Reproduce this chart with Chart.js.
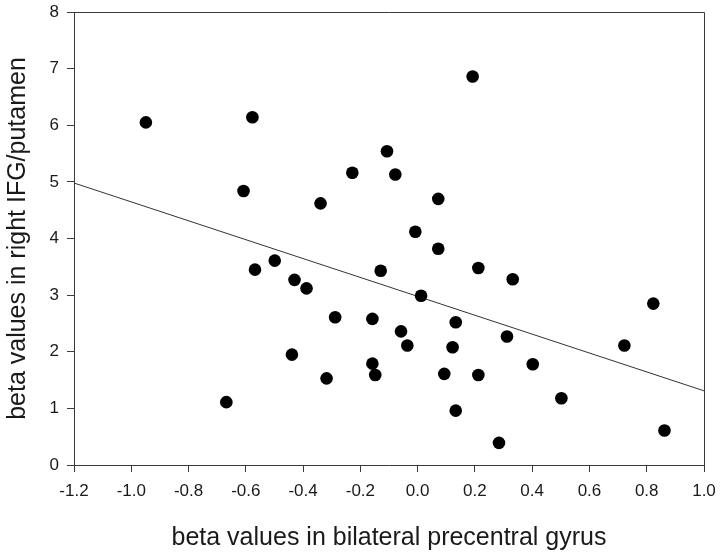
<!DOCTYPE html>
<html>
<head>
<meta charset="utf-8">
<script src="https://cdn.jsdelivr.net/npm/chart.js@4.4.1/dist/chart.umd.min.js"></script>
<style>
  html, body { margin: 0; padding: 0; background: #ffffff; }
  #wrap { width: 720px; height: 554px; }
</style>
</head>
<body>
<div id="wrap"><canvas id="c" width="720" height="554"></canvas></div>
<script>
// Data
const precentralX = [-0.949, -0.577, -0.228, -0.608, -0.339, -0.499, -0.568, -0.430, -0.388, -0.288,
  -0.439, -0.318, -0.668, 0.192, -0.107, -0.078, 0.072, -0.008, 0.072, -0.129,
  0.212, 0.332, 0.012, 0.823, -0.158, 0.133, -0.058, 0.312, -0.036, 0.122,
  0.722, -0.158, -0.148, 0.093, 0.212, 0.402, 0.502, 0.133, 0.862, 0.284];
const ifgPutamenY = [6.05, 6.14, 5.16, 4.84, 4.62, 3.61, 3.45, 3.27, 3.12, 2.61,
  1.95, 1.53, 1.11, 6.86, 5.54, 5.13, 4.70, 4.12, 3.82, 3.43,
  3.48, 3.28, 2.99, 2.85, 2.58, 2.52, 2.36, 2.27, 2.11, 2.08,
  2.11, 1.79, 1.59, 1.61, 1.59, 1.78, 1.18, 0.96, 0.61, 0.39];
const fitLineX = [-1.2, 1.0];
const fitLineY = [4.98, 1.31];
const xTickValues = [-1.2, -1.0, -0.8, -0.6, -0.4, -0.2, 0.0, 0.2, 0.4, 0.6, 0.8, 1.0];
const yTickValues = [0, 1, 2, 3, 4, 5, 6, 7, 8];
const xTitle = 'beta values in bilateral precentral gyrus';
const yTitle = 'beta values in right IFG/putamen';

const scatterPts = precentralX.map((x, i) => ({ x: x, y: ifgPutamenY[i] }));
const linePts = fitLineX.map((x, i) => ({ x: x, y: fitLineY[i] }));

const axisColor = '#3a3a3a';
const textColor = '#1a1a1a';
const fontFam = '"Liberation Sans", Arial, sans-serif';

const boxPlugin = {
  id: 'box',
  afterDraw(chart) {
    const a = chart.chartArea;
    const ctx = chart.ctx;
    ctx.save();
    ctx.strokeStyle = axisColor;
    ctx.lineWidth = 1;
    ctx.beginPath();
    ctx.moveTo(a.left, a.top + 0.5);
    ctx.lineTo(a.right + 0.5, a.top + 0.5);
    ctx.lineTo(a.right + 0.5, a.bottom);
    ctx.stroke();
    ctx.restore();
  }
};

new Chart(document.getElementById('c'), {
  type: 'scatter',
  data: {
    datasets: [
      {
        type: 'scatter',
        data: scatterPts,
        backgroundColor: '#000000',
        borderColor: '#000000',
        borderWidth: 0,
        pointRadius: 6.3,
        pointHoverRadius: 6.3,
        order: 1
      },
      {
        type: 'line',
        data: linePts,
        borderColor: '#333333',
        borderWidth: 1,
        pointRadius: 0,
        fill: false,
        showLine: true,
        order: 2
      }
    ]
  },
  options: {
    responsive: false,
    animation: false,
    devicePixelRatio: 1,
    layout: { padding: { left: 0, right: 16, top: 12, bottom: 0 } },
    plugins: { legend: { display: false }, tooltip: { enabled: false } },
    scales: {
      x: {
        type: 'linear',
        min: -1.2, max: 1.0,
        afterBuildTicks(scale) { scale.ticks = xTickValues.map(v => ({ value: v })); },
        afterFit(scale) { scale.height = 89; scale.paddingLeft = 0; scale.paddingRight = 0; },
        border: { display: true, color: axisColor, width: 1 },
        grid: { display: true, drawOnChartArea: false, drawTicks: true, tickLength: 7, tickColor: axisColor },
        ticks: {
          color: textColor, padding: 9, maxRotation: 0, autoSkip: false,
          font: { family: fontFam, size: 17 },
          callback: v => Number(v).toFixed(1)
        },
        title: {
          display: true, text: xTitle, color: textColor,
          font: { family: fontFam, size: 25 }, padding: { top: 0, bottom: 1 }
        }
      },
      y: {
        type: 'linear',
        min: 0, max: 8,
        afterBuildTicks(scale) { scale.ticks = yTickValues.map(v => ({ value: v })); },
        afterFit(scale) { scale.width = 74; scale.paddingTop = 0; scale.paddingBottom = 0; },
        border: { display: true, color: axisColor, width: 1 },
        grid: { display: true, drawOnChartArea: false, drawTicks: true, tickLength: 7, tickColor: axisColor },
        ticks: {
          color: textColor, padding: 8, autoSkip: false,
          font: { family: fontFam, size: 17 },
          callback: v => String(v)
        },
        title: {
          display: true, text: yTitle, color: textColor,
          font: { family: fontFam, size: 25 }, padding: { top: 3, bottom: 0 }
        }
      }
    }
  },
  plugins: [boxPlugin]
});
</script>
</body>
</html>
